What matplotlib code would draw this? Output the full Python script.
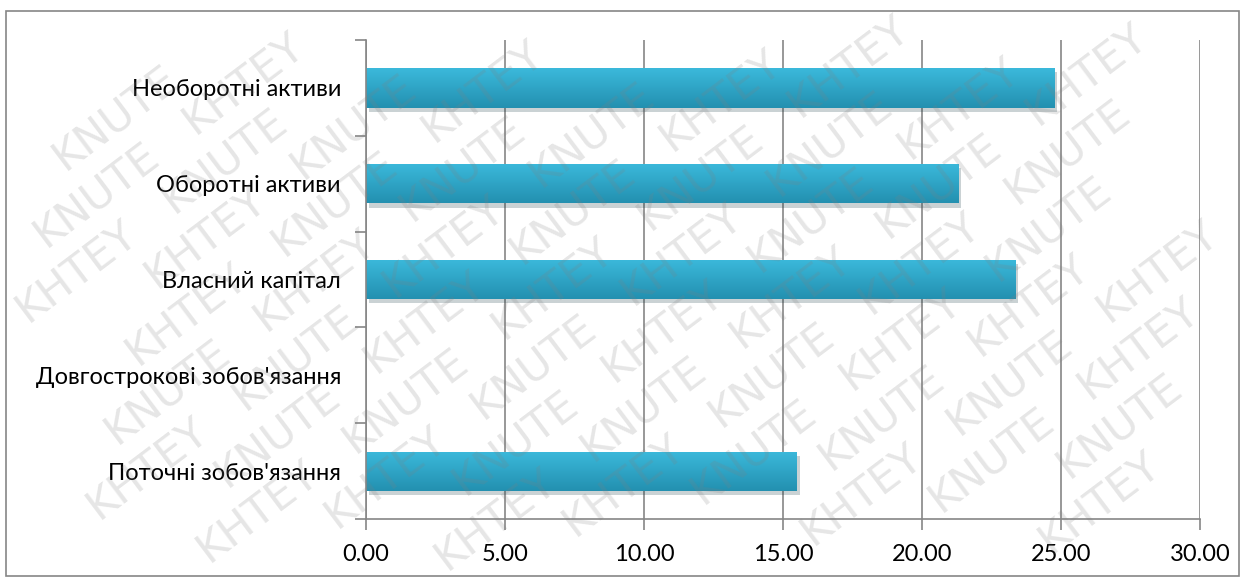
import numpy as np
import matplotlib.pyplot as plt
import matplotlib.patches as patches
import matplotlib.patheffects as pe
from matplotlib.colors import LinearSegmentedColormap

plt.rcParams['font.family'] = ['Lato', 'DejaVu Sans']

# Data
categories = ["Необоротні активи", "Оборотні активи", "Власний капітал",
              "Довгострокові зобов'язання", "Поточні зобов'язання"]
values = [24.76, 21.30, 23.35, 0.0, 15.50]
x_ticks = [0, 5, 10, 15, 20, 25, 30]
watermark_words = ["KNUTE", "KHTEY"]

W, H = 1245, 580
fig = plt.figure(figsize=(W / 100, H / 100), dpi=100)
ax = fig.add_axes([0.294, 0.105, 0.670, 0.826])

y = np.arange(len(categories))[::-1]
bars = ax.barh(y, values, height=0.41, color='#30a9cc', zorder=3,
               path_effects=[pe.SimplePatchShadow(offset=(2, -3), alpha=0.22),
                             pe.Normal()])

# vertical gradient inside each bar (light on top, darker below)
grad = np.linspace(0, 1, 100).reshape(-1, 1)
cmap = LinearSegmentedColormap.from_list('bar', ['#3bb9db', '#2390b0'])
for b in bars:
    if b.get_width() <= 0:
        continue
    x0, y0 = b.get_x(), b.get_y()
    im = ax.imshow(grad, cmap=cmap, aspect='auto', zorder=4,
                   extent=[x0, x0 + b.get_width(), y0, y0 + b.get_height()])
    im.set_clip_path(b)

ax.set_xlim(0, 30)
ax.set_ylim(-0.5, len(categories) - 0.5)
ax.set_xticks(x_ticks)
ax.set_xticklabels([f'{v:.2f}' for v in x_ticks], fontsize=17)
ax.set_yticks(y)
ax.set_yticklabels(categories, fontsize=17)
ax.set_yticks(np.arange(-0.5, len(categories), 1), minor=True)
ax.tick_params(axis='y', which='major', length=0, pad=18)
ax.tick_params(axis='y', which='minor', length=8, color='#868686', width=1.2)
ax.tick_params(axis='x', length=8, color='#868686', width=1.2, pad=10)

ax.grid(axis='x', color='#868686', linewidth=1.2, zorder=1)
for s in ['top', 'right']:
    ax.spines[s].set_visible(False)
for s in ['left', 'bottom']:
    ax.spines[s].set_color('#868686')
    ax.spines[s].set_linewidth(1.2)
    ax.spines[s].set_zorder(5)

# outer chart border
fig.patches.append(patches.Rectangle((0.005, 0.007), 0.99, 0.974, transform=fig.transFigure,
                                     fill=False, edgecolor='#868686', linewidth=1.2))

# diagonal watermark, words kept fully inside the picture
ang = np.deg2rad(37)
u = np.array([np.cos(ang), np.sin(ang)])
n = np.array([-np.sin(ang), np.cos(ang)])
wm = []
for k in range(-30, 30):
    for j in range(-12, 12):
        p = k * 50 * n + (j * 185 + (k % 3) * 62) * u
        if -150 < p[0] < W + 150 and -150 < p[1] < H + 150:
            t = fig.text(p[0] / W, p[1] / H, watermark_words[(j + k) % 2],
                         rotation=37, fontsize=31, color='#808080', alpha=0.2,
                         zorder=10, ha='center', va='center', rotation_mode='anchor',
                         family='DejaVu Sans')
            wm.append(t)
fig.canvas.draw()
r = fig.canvas.get_renderer()
for t in wm:
    bb = t.get_window_extent(r)
    if bb.x0 < 1 or bb.y0 < 1 or bb.x1 > W - 1 or bb.y1 > H - 1:
        t.remove()

fig.savefig('out.png', dpi=100)
